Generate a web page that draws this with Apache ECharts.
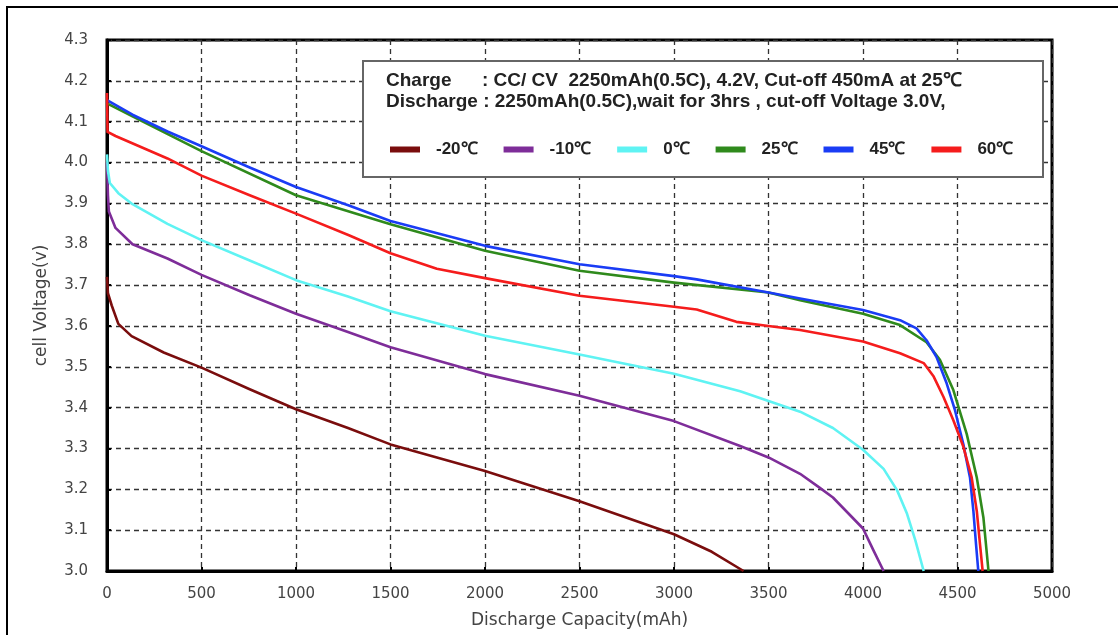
<!DOCTYPE html>
<html>
<head>
<meta charset="utf-8">
<script src="https://cdn.jsdelivr.net/npm/echarts@6/dist/echarts.min.js"></script>
<style>html,body{margin:0;padding:0;background:#fff}#c{width:1118px;height:635px}</style>
</head>
<body>
<div id="c"></div>
<script>
var seriesNames = ['-20℃', '-10℃', '0℃', '25℃', '45℃', '60℃'];
var seriesColors = ['#7a0d0d', '#7e2d99', '#5ff3f3', '#2f8a1c', '#1a3cf5', '#f51c1c'];
var xTicks = [0, 500, 1000, 1500, 2000, 2500, 3000, 3500, 4000, 4500, 5000];
var yTicks = [3.0, 3.1, 3.2, 3.3, 3.4, 3.5, 3.6, 3.7, 3.8, 3.9, 4.0, 4.1, 4.2, 4.3];

var capM20 = [0, 5, 25, 60, 130, 300, 500, 755, 1000, 1275, 1500, 2000, 2500, 3000, 3200, 3368];
var voltM20 = [3.72, 3.68, 3.65, 3.605, 3.575, 3.535, 3.498, 3.445, 3.396, 3.35, 3.31, 3.245, 3.171, 3.09, 3.047, 3.0];

var capM10 = [0, 5, 10, 45, 135, 320, 500, 755, 1000, 1275, 1500, 2000, 2500, 3000, 3350, 3500, 3667, 3770, 3841, 4000, 4056, 4109];
var voltM10 = [4.00, 3.92, 3.88, 3.84, 3.80, 3.765, 3.725, 3.675, 3.63, 3.585, 3.548, 3.482, 3.429, 3.367, 3.306, 3.278, 3.238, 3.204, 3.18, 3.104, 3.05, 3.0];

var cap0 = [0, 5, 15, 60, 135, 320, 500, 755, 1000, 1275, 1500, 2000, 2500, 3000, 3350, 3500, 3667, 3841, 4000, 4109, 4180, 4233, 4277, 4321];
var volt0 = [4.02, 3.98, 3.95, 3.925, 3.898, 3.85, 3.81, 3.76, 3.712, 3.672, 3.636, 3.576, 3.53, 3.483, 3.44, 3.416, 3.39, 3.35, 3.297, 3.25, 3.198, 3.14, 3.075, 3.0];

var cap25 = [0, 135, 500, 1000, 1500, 2000, 2500, 3000, 3500, 3667, 4000, 4196, 4336, 4407, 4478, 4549, 4602, 4637, 4664];
var volt25 = [4.145, 4.113, 4.028, 3.92, 3.849, 3.784, 3.735, 3.706, 3.682, 3.663, 3.63, 3.602, 3.56, 3.517, 3.443, 3.335, 3.229, 3.131, 3.0];

var cap45 = [0, 135, 320, 500, 755, 1000, 1280, 1500, 2000, 2500, 3000, 3120, 3500, 3667, 4000, 4196, 4283, 4336, 4389, 4443, 4487, 4531, 4566, 4584, 4598, 4610];
var volt45 = [4.153, 4.117, 4.076, 4.04, 3.988, 3.94, 3.895, 3.857, 3.796, 3.751, 3.722, 3.714, 3.682, 3.667, 3.639, 3.614, 3.594, 3.565, 3.524, 3.459, 3.393, 3.31, 3.229, 3.147, 3.066, 3.0];

var cap60 = [0, 3, 45, 320, 500, 755, 1000, 1280, 1500, 1745, 2000, 2500, 3000, 3120, 3330, 3500, 3667, 4000, 4196, 4321, 4374, 4426, 4478, 4531, 4575, 4602, 4619, 4633];
var volt60 = [4.17, 4.075, 4.065, 4.01, 3.968, 3.92, 3.875, 3.822, 3.778, 3.74, 3.717, 3.674, 3.647, 3.64, 3.61, 3.60, 3.59, 3.562, 3.533, 3.509, 3.476, 3.426, 3.369, 3.304, 3.229, 3.147, 3.066, 3.0];

var caps = [capM20, capM10, cap0, cap25, cap45, cap60];
var volts = [voltM20, voltM10, volt0, volt25, volt45, volt60];

function zip(a, b) { return a.map(function (v, i) { return [v, b[i]]; }); }

var chart = echarts.init(document.getElementById('c'), null, { renderer: 'canvas' });

var series = seriesNames.map(function (n, i) {
  return {
    name: n, type: 'line', data: zip(caps[i], volts[i]),
    symbol: 'none', smooth: false,
    lineStyle: { color: seriesColors[i], width: 2.6, join: 'round' },
    itemStyle: { color: seriesColors[i] }, z: 3
  };
});

var gridDash = { color: '#333', width: 1.3, type: [5, 4] };
var labelFont = { color: '#444', fontSize: 15, fontFamily: 'DejaVu Sans' };
var boxFont = 'bold 19px "Liberation Sans"';

chart.setOption({
  animation: false,
  backgroundColor: '#fff',
  grid: { left: 107, right: 66, top: 40, bottom: 64, show: true, borderColor: '#000', borderWidth: 3, backgroundColor: 'transparent' },
  xAxis: {
    type: 'value', min: 0, max: 5000, interval: 500,
    name: 'Discharge Capacity(mAh)', nameLocation: 'middle', nameGap: 41,
    nameTextStyle: { color: '#444', fontSize: 17, fontFamily: 'DejaVu Sans' },
    axisLine: { show: true, lineStyle: { color: '#000', width: 3 } },
    axisTick: { show: true, inside: true, length: 4, lineStyle: { color: '#000', width: 2 } },
    axisLabel: Object.assign({ margin: 16, formatter: function (v) { return xTicks.indexOf(v) >= 0 ? String(v) : ''; } }, labelFont),
    splitLine: { show: true, lineStyle: gridDash }
  },
  yAxis: {
    type: 'value', min: 3.0, max: 4.3, interval: 0.1,
    name: 'cell Voltage(v)', nameLocation: 'middle', nameGap: 57,
    nameTextStyle: { color: '#444', fontSize: 17, fontFamily: 'DejaVu Sans' },
    axisLine: { show: true, lineStyle: { color: '#000', width: 3 } },
    axisTick: { show: true, inside: true, length: 4, lineStyle: { color: '#000', width: 2 } },
    axisLabel: Object.assign({ margin: 19, formatter: function (v) {
      var s = v.toFixed(1);
      return yTicks.map(function (t) { return t.toFixed(1); }).indexOf(s) >= 0 ? s : '';
    } }, labelFont),
    splitLine: { show: true, lineStyle: gridDash }
  },
  legend: {
    data: seriesNames, left: 385, top: 136, z: 20,
    icon: 'rect', itemWidth: 30, itemHeight: 6, itemGap: 26,
    textStyle: { color: '#222', fontSize: 17, fontWeight: 'bold', fontFamily: 'Liberation Sans', padding: [0, 0, 0, 11] }
  },
  graphic: [
    { type: 'rect', z: 10, shape: { x: 7, y: 7, width: 1300, height: 800 }, style: { fill: 'none', stroke: '#000', lineWidth: 2 } },
    { type: 'rect', z: 15, shape: { x: 363, y: 61, width: 680, height: 116 }, style: { fill: '#fff', stroke: '#666', lineWidth: 2 } },
    { type: 'text', z: 20, x: 386, y: 71, style: { text: 'Charge', fill: '#222', font: boxFont } },
    { type: 'text', z: 20, x: 482, y: 71, style: { text: ': CC/ CV  2250mAh(0.5C), 4.2V, Cut-off 450mA at 25℃', fill: '#222', font: boxFont } },
    { type: 'text', z: 20, x: 386, y: 92, style: { text: 'Discharge : 2250mAh(0.5C),wait for 3hrs , cut-off Voltage 3.0V,', fill: '#222', font: boxFont } }
  ],
  series: series
});
</script>
</body>
</html>
